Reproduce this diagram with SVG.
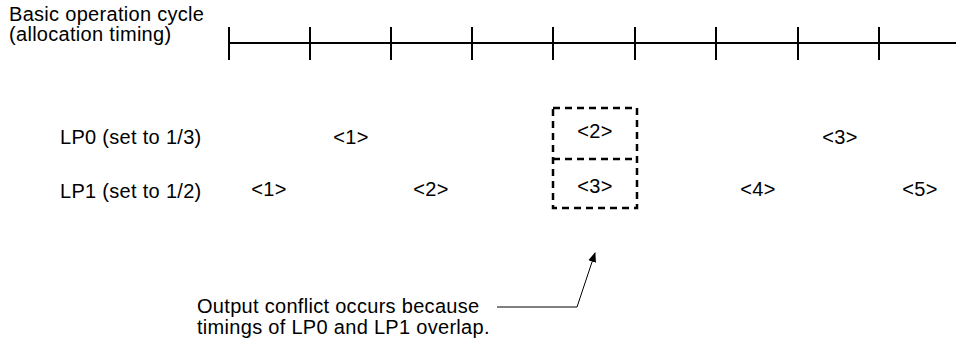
<svg xmlns="http://www.w3.org/2000/svg" width="956" height="345" viewBox="0 0 956 345">
<style>
text{font-family:"Liberation Sans",Arial,sans-serif;font-size:20px;letter-spacing:0.3px;fill:#000}
.c{text-anchor:middle}
.ln{stroke:#000;stroke-width:2;fill:none}
.ds{stroke:#000;stroke-width:2.5;fill:none;stroke-dasharray:7,5}
</style>
<defs>
<marker id="ah" markerWidth="10" markerHeight="10" refX="9" refY="5" orient="auto" markerUnits="userSpaceOnUse">
<path d="M0,1 L10,5 L0,9 Z" fill="#000"/>
</marker>
</defs>
<rect width="956" height="345" fill="#fff"/>
<g id="timeline">
<text x="9" y="21">Basic operation cycle</text>
<text x="9" y="41">(allocation timing)</text>
<path class="ln" d="M229,43 H956 M229,27 V60 M310,27 V60 M391,27 V60 M472,27 V60 M553,27 V60 M635,27 V60 M716,27 V60 M798,27 V60 M879,27 V60"/>
</g>
<g id="lp0">
<text x="60" y="144">LP0 (set to 1/3)</text>
<text class="c" x="351" y="144">&lt;1&gt;</text>
<text class="c" x="595" y="138">&lt;2&gt;</text>
<text class="c" x="840" y="144">&lt;3&gt;</text>
</g>
<g id="lp1">
<text x="60" y="198">LP1 (set to 1/2)</text>
<text class="c" x="269" y="196">&lt;1&gt;</text>
<text class="c" x="431" y="196">&lt;2&gt;</text>
<text class="c" x="595" y="193">&lt;3&gt;</text>
<text class="c" x="758" y="196">&lt;4&gt;</text>
<text class="c" x="920" y="196">&lt;5&gt;</text>
</g>
<g id="conflict-box">
<rect class="ds" x="553" y="108" width="84" height="100"/>
<line class="ds" x1="553" y1="159" x2="637" y2="159"/>
</g>
<g id="note">
<text x="197" y="313">Output conflict occurs because</text>
<text x="197" y="334">timings of LP0 and LP1 overlap.</text>
</g>
<g id="connectors">
<path d="M497,307 H577 L595,253" stroke="#000" stroke-width="1" fill="none" marker-end="url(#ah)"/>
</g>
</svg>
